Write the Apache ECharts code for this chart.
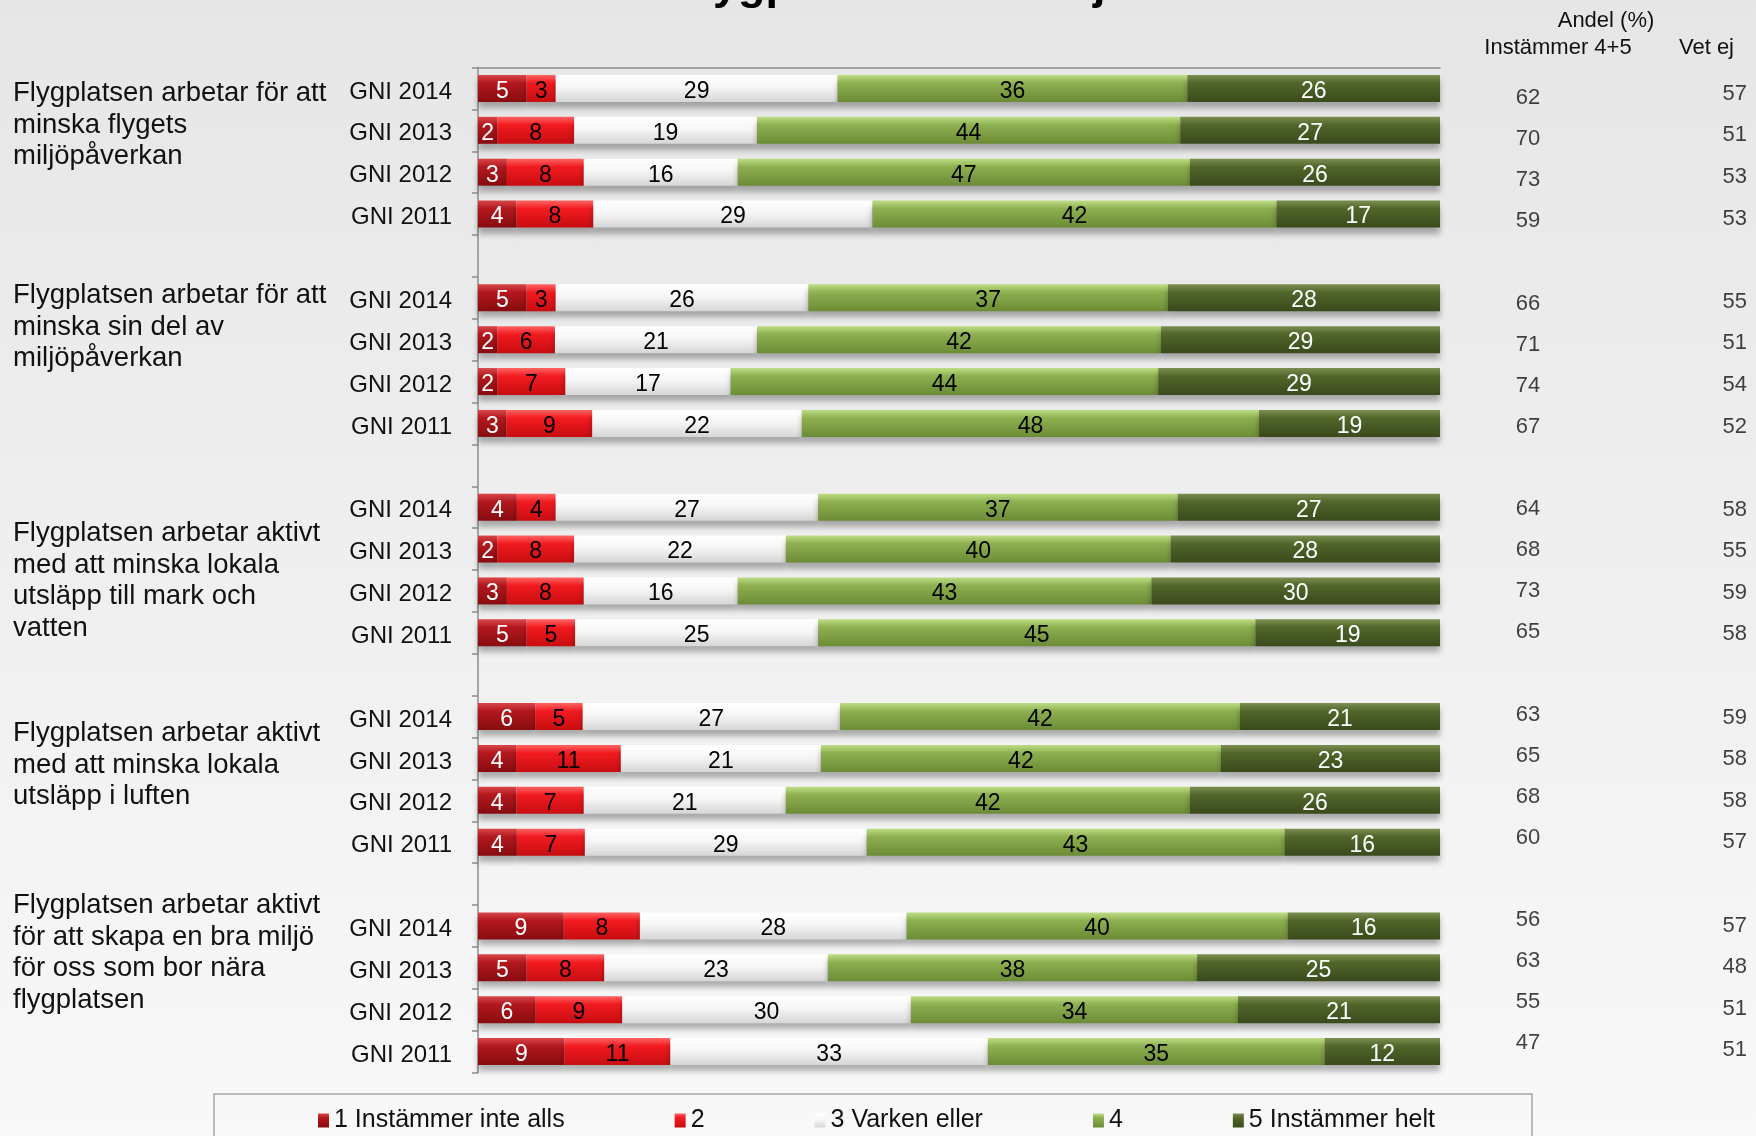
<!DOCTYPE html>
<html><head><meta charset="utf-8">
<script src="https://cdn.jsdelivr.net/npm/echarts@6/dist/echarts.min.js"></script>
<style>html,body{margin:0;padding:0;}#c{width:1756px;height:1136px;}</style>
</head><body><div id="c"></div>
<script>
const titleText = 'Flygplatsen och miljö';
const groupLabels = [
  'Flygplatsen arbetar för att\nminska flygets\nmiljöpåverkan',
  'Flygplatsen arbetar för att\nminska sin del av\nmiljöpåverkan',
  'Flygplatsen arbetar aktivt\nmed att minska lokala\nutsläpp till mark och\nvatten',
  'Flygplatsen arbetar aktivt\nmed att minska lokala\nutsläpp i luften',
  'Flygplatsen arbetar aktivt\nför att skapa en bra miljö\nför oss som bor nära\nflygplatsen'
];
const years = ['GNI 2014', 'GNI 2013', 'GNI 2012', 'GNI 2011'];
const seriesNames = ['1 Instämmer inte alls', '2', '3 Varken eller', '4', '5 Instämmer helt'];
const s1 = [5,2,3,4, 5,2,2,3, 4,2,3,5, 6,4,4,4, 9,5,6,9];
const s2 = [3,8,8,8, 3,6,7,9, 4,8,8,5, 5,11,7,7, 8,8,9,11];
const s3 = [29,19,16,29, 26,21,17,22, 27,22,16,25, 27,21,21,29, 28,23,30,33];
const s4 = [36,44,47,42, 37,42,44,48, 37,40,43,45, 42,42,42,43, 40,38,34,35];
const s5 = [26,27,26,17, 28,29,29,19, 27,28,30,19, 21,23,26,16, 16,25,21,12];
const instammer45 = [62,70,73,59, 66,71,74,67, 64,68,73,65, 63,65,68,60, 56,63,55,47];
const vetEj = [57,51,53,53, 55,51,54,52, 58,55,59,58, 59,58,58,57, 57,48,51,51];
const headerAndel = 'Andel (%)';
const headerInst = 'Instämmer 4+5';
const headerVet = 'Vet ej';

// layout (not data)
const groupLabelOffsets = [5, -2, 26.5, 17, -20.5];
const FONT = "'Liberation Sans', Arial, sans-serif";

// categories: 5 groups of 4 years, with an empty slot between groups
const categories = [];
const rowSlot = [];
groupLabels.forEach((g, gi) => {
  years.forEach((y, yi) => {
    rowSlot.push(categories.length);
    categories.push(gi + '|' + y);
  });
  if (gi < groupLabels.length - 1) categories.push('gap' + gi);
});
const allSeries = [s1, s2, s3, s4, s5];
const rowSum = s1.map((_, k) => allSeries.reduce((a, s) => a + s[k], 0));

function grad(stops) {
  return { type: 'linear', x: 0, y: 0, x2: 0, y2: 1,
    colorStops: stops.map(s => ({ offset: s[0], color: s[1] })) };
}
const fills = [
  grad([[0, '#D8474B'], [0.3, '#B3181D'], [1, '#870C10']]),
  grad([[0, '#FF6464'], [0.3, '#F21B20'], [1, '#C70D11']]),
  grad([[0, '#FFFFFF'], [0.45, '#F6F6F6'], [1, '#D6D6D6']]),
  grad([[0, '#BEDD86'], [0.3, '#8DB050'], [1, '#6C8B36']]),
  grad([[0, '#7A8F50'], [0.3, '#52662A'], [1, '#3A4A1C']])
];
const labelColors = ['#FFFFFF', '#000000', '#000000', '#000000', '#FFFFFF'];

function barData(arr) {
  const d = categories.map(() => '-');
  arr.forEach((v, k) => { d[rowSlot[k]] = { value: v / rowSum[k] * 100, raw: v }; });
  return d;
}

const barSeries = allSeries.map((arr, i) => ({
  name: seriesNames[i],
  type: 'bar',
  stack: 'all',
  barWidth: 27,
  xAxisIndex: 0, yAxisIndex: 0,
  data: barData(arr),
  itemStyle: { color: fills[i], shadowBlur: 6, shadowOffsetY: 6, shadowColor: 'rgba(0,0,0,0.3)' },
  label: { show: true, position: 'inside', offset: [0, 3], color: labelColors[i], fontSize: 23, fontFamily: FONT,
    formatter: p => p.data.raw },
  emphasis: { disabled: true }
}));

const instData = instammer45.map((v, k) => [0.5, categories[rowSlot[k]], v]);
const vetData = vetEj.map((v, k) => [1, categories[rowSlot[k]], v]);

const chart = echarts.init(document.getElementById('c'), null, { renderer: 'canvas' });
const option = {
  animation: false,
  backgroundColor: grad([[0, '#E6E6E6'], [1, '#F8F8F8']]),
  grid: [
    { left: 478, width: 962, top: 67.5, height: 1005 },
    { left: 1500, width: 56, top: 77.5, height: 986.4 },
    { left: 1650, width: 97, top: 73, height: 998 }
  ],
  xAxis: [
    { type: 'value', gridIndex: 0, min: 0, max: 100, position: 'top',
      axisLine: { show: true, lineStyle: { color: '#8C8C8C', width: 1.5 } },
      axisTick: { show: false }, axisLabel: { show: false }, splitLine: { show: false } },
    { type: 'value', gridIndex: 1, min: 0, max: 1, show: false },
    { type: 'value', gridIndex: 2, min: 0, max: 1, show: false }
  ],
  yAxis: [
    { type: 'category', gridIndex: 0, inverse: true, data: categories,
      axisLine: { show: true, lineStyle: { color: '#8C8C8C', width: 1.5 } },
      axisTick: { show: true, interval: 0, length: 6, lineStyle: { color: '#8C8C8C', width: 1.5 } },
      axisLabel: { interval: 0, margin: 26, color: '#111',
        rich: { y: { fontSize: 24, color: '#111', fontFamily: FONT, padding: [7, 0, 0, 0] } },
        formatter: v => v.startsWith('gap') ? '' : '{y|' + v.split('|')[1] + '}' } },
    { type: 'category', gridIndex: 1, inverse: true, data: categories, show: false },
    { type: 'category', gridIndex: 2, inverse: true, data: categories, show: false }
  ],
  legend: {
    data: seriesNames, left: 214, top: 1094, orient: 'horizontal',
    padding: [14, 97, 40, 104], itemGap: 110, itemWidth: 11, itemHeight: 14,
    borderColor: '#A6A6A6', borderWidth: 1.5, icon: 'rect',
    textStyle: { fontSize: 25, color: '#111', fontFamily: FONT },
    selectedMode: false
  },
  series: barSeries.concat([
    { type: 'scatter', xAxisIndex: 1, yAxisIndex: 1, symbolSize: 0, data: instData,
      encode: { x: 0, y: 1 }, silent: true,
      label: { show: true, position: 'inside', fontSize: 22, color: '#111', fontFamily: FONT,
        formatter: p => p.value[2] } },
    { type: 'scatter', xAxisIndex: 2, yAxisIndex: 2, symbolSize: 0, data: vetData,
      encode: { x: 0, y: 1 }, silent: true,
      label: { show: true, position: 'left', distance: 0, fontSize: 22, color: '#111', fontFamily: FONT,
        formatter: p => p.value[2] } }
  ])
};
chart.setOption(option);

const graphics = [
  { type: 'text', left: 673, top: -36, style: { text: titleText, font: 'bold 45px ' + FONT, fill: '#000' } },
  { type: 'text', x: 1606, y: 21, style: { text: headerAndel, font: '22px ' + FONT, fill: '#111', align: 'center', verticalAlign: 'middle' } },
  { type: 'text', x: 1558, y: 48, style: { text: headerInst, font: '22px ' + FONT, fill: '#111', align: 'center', verticalAlign: 'middle' } },
  { type: 'text', x: 1734, y: 48, style: { text: headerVet, font: '22px ' + FONT, fill: '#111', align: 'right', verticalAlign: 'middle' } }
];
groupLabels.forEach((g, gi) => {
  const firstRow = categories[rowSlot[gi * years.length]];
  const py = chart.convertToPixel({ yAxisIndex: 0 }, firstRow);
  const lh = 31.5;
  graphics.push({ type: 'text', x: 13, y: py + groupLabelOffsets[gi] - lh / 2,
    style: { text: g, font: '27.5px ' + FONT, fill: '#111', lineHeight: lh, align: 'left', verticalAlign: 'top' } });
});
chart.setOption({ graphic: graphics });
</script>
</body></html>
